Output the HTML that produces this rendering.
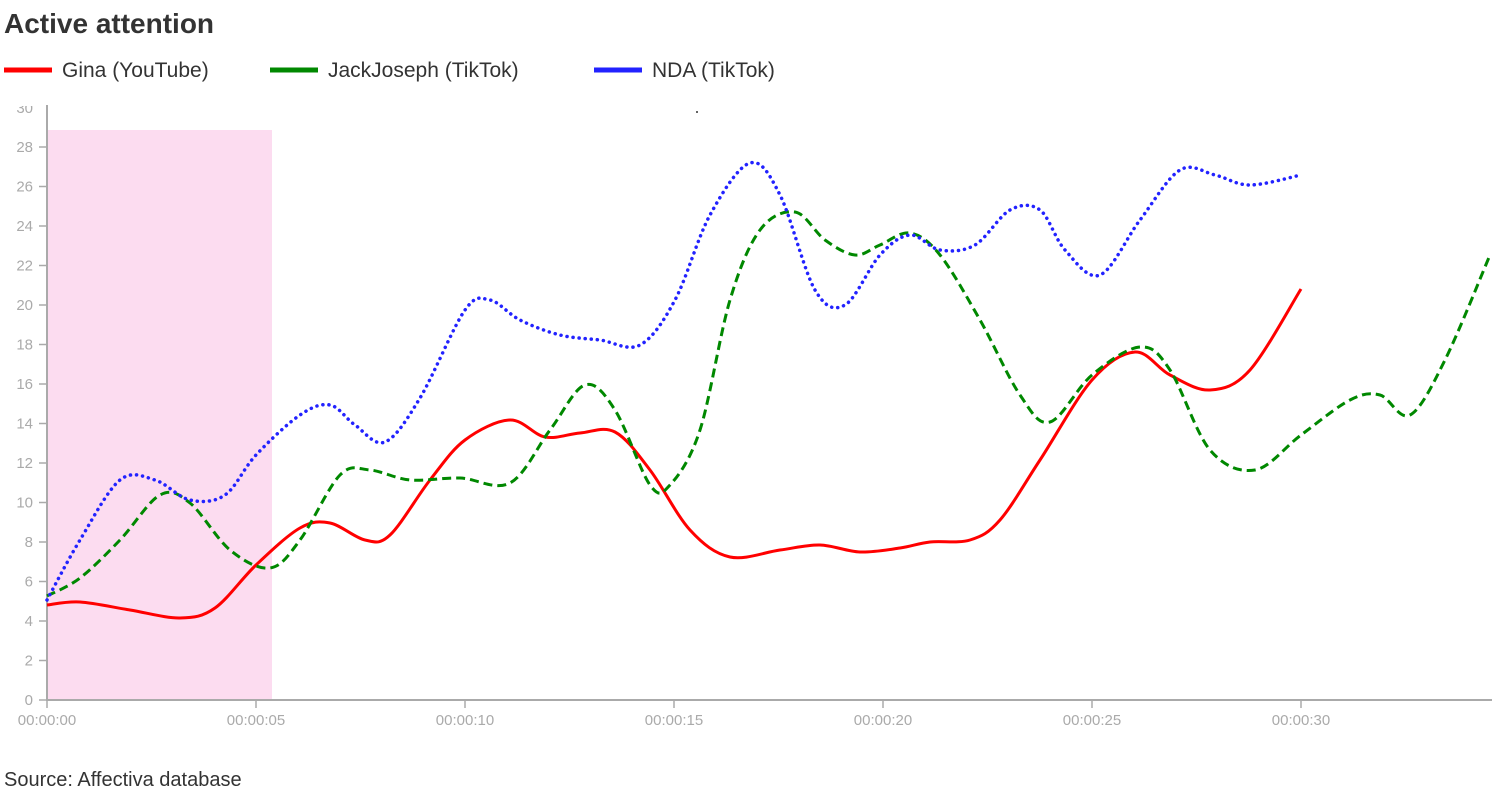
<!DOCTYPE html>
<html><head><meta charset="utf-8"><style>
body{margin:0;width:1500px;height:800px;background:#fff;font-family:"Liberation Sans",sans-serif;overflow:hidden}
</style></head><body>
<svg width="1500" height="800" xmlns="http://www.w3.org/2000/svg" font-family="Liberation Sans, sans-serif">
<text x="4" y="33" font-size="28" font-weight="bold" fill="#333">Active attention</text>
<line x1="4" y1="70" x2="52" y2="70" stroke="#f00" stroke-width="5"/>
<text x="62" y="77" font-size="21" fill="#333">Gina (YouTube)</text>
<line x1="270" y1="70" x2="318" y2="70" stroke="#080" stroke-width="5"/>
<text x="328" y="77" font-size="21" fill="#333">JackJoseph (TikTok)</text>
<line x1="594" y1="70" x2="642" y2="70" stroke="#22f" stroke-width="5"/>
<text x="652" y="77" font-size="21" fill="#333">NDA (TikTok)</text>
<rect x="48" y="130" width="224" height="570" fill="#fcdcf0"/>
<g stroke="#aaa" stroke-width="2">
<line x1="47" y1="105" x2="47" y2="701"/>
<line x1="46" y1="700" x2="1492" y2="700"/>
</g>
<g id="ticks" font-size="15" fill="#aaa" text-anchor="end"></g>
<rect x="0" y="90" width="46" height="16" fill="#fff"/>
<path id="r" fill="none" stroke="#f00" stroke-width="3"/>
<path id="g" fill="none" stroke="#080" stroke-width="3" stroke-dasharray="9,5"/>
<path id="b" fill="none" stroke="#22f" stroke-width="3.5" stroke-dasharray="0.1,6" stroke-linecap="round"/>
<circle cx="697" cy="112" r="1" fill="#333"/>
<text x="4" y="786" font-size="20" fill="#333">Source: Affectiva database</text>
</svg>
<script>
var t=document.getElementById("ticks"),h="";
for(var v=0;v<=28;v+=2){var y=700-v*19.75;h+='<line x1="39" y1="'+y+'" x2="47" y2="'+y+'" stroke="#aaa" stroke-width="1.5"/><text x="33" y="'+(y+5)+'">'+v+'</text>';}
h+='<text x="33" y="113">30</text>';
for(var i=0;i<=6;i++){var x=47+i*209;h+='<line x1="'+x+'" y1="700" x2="'+x+'" y2="708" stroke="#aaa" stroke-width="1.5"/><text x="'+x+'" y="725" text-anchor="middle">00:00:'+(i*5<10?'0':'')+(i*5)+'</text>';}
t.innerHTML=h;
function cr(p){var d="M"+p[0][0]+","+p[0][1];for(var i=0;i<p.length-1;i++){var a=p[i-1]||p[i],b=p[i],c=p[i+1],e=p[i+2]||c;d+="C"+(b[0]+(c[0]-a[0])/6)+","+(b[1]+(c[1]-a[1])/6)+" "+(c[0]-(e[0]-b[0])/6)+","+(c[1]-(e[1]-b[1])/6)+" "+c[0]+","+c[1];}return d;}
var R=[[47,605],[80,602],[130,610],[180,618],[215,608],[256,565],[300,528],[330,523],[365,540],[390,535],[430,480],[465,440],[510,420],[545,437],[580,433],[615,432],[650,470],[690,530],[730,557],[780,550],[820,545],[860,552],[900,548],[930,542],[970,540],[1000,520],[1040,460],[1092,380],[1135,352],[1170,375],[1210,390],[1250,370],[1301,289]];
var G=[[47,596],[80,578],[120,540],[160,495],[190,503],[230,550],[270,568],[300,540],[340,475],[370,470],[410,480],[460,478],[510,483],[550,430],[585,385],[615,410],[650,485],[670,485],[700,430],[730,300],[760,230],[795,212],[825,240],[855,255],[880,245],[910,233],[940,255],[980,320],[1020,395],[1050,422],[1092,375],[1140,347],[1170,370],[1210,450],[1255,470],[1301,435],[1350,400],[1380,395],[1410,415],[1445,360],[1490,255]];
var B=[[47,600],[80,540],[120,480],[155,480],[190,500],[225,495],[256,455],[300,415],[330,405],[355,425],[385,442],[420,398],[465,310],[490,300],[520,320],[560,335],[600,340],[640,345],[675,300],[710,215],[750,163],[780,195],[815,290],[845,305],[880,255],[910,235],[940,250],[975,245],[1010,210],[1040,210],[1065,250],[1100,275],[1140,220],[1180,170],[1215,175],[1250,185],[1301,175]];
document.getElementById("r").setAttribute("d",cr(R));
document.getElementById("g").setAttribute("d",cr(G));
document.getElementById("b").setAttribute("d",cr(B));
</script>
</body></html>
